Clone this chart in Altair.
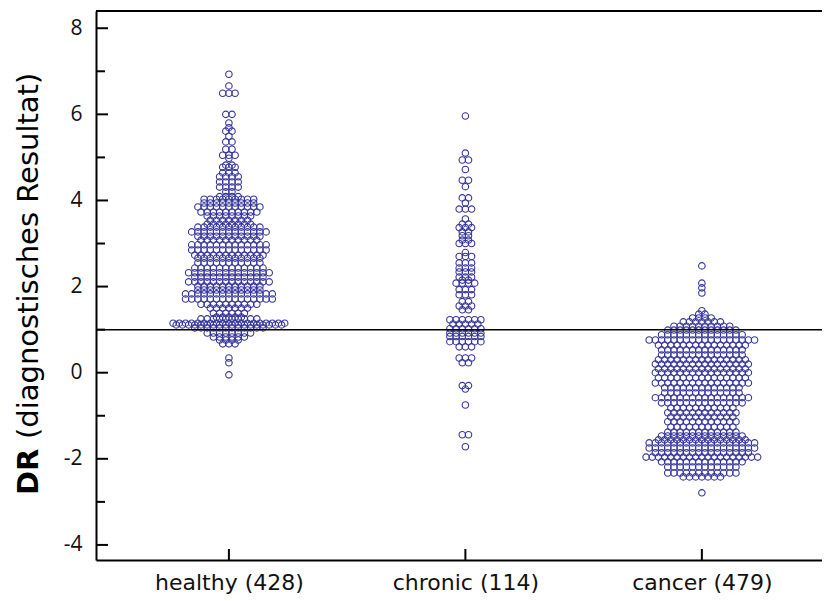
import altair as alt
import pandas as pd

# ---- data ----
groups = ["healthy (428)", "chronic (114)", "cancer (479)"]

healthy_dr = [6.93, 6.66, 6.49, 6.00, 5.80, 5.69, 5.61, 5.49, 5.36, 5.19, 5.05, 4.98, 4.82, 4.77,
              4.64, 4.55, 4.43, 4.31, 4.20, 4.09, 4.03, 3.94, 3.85, 3.73, 3.64, 3.54, 3.45, 3.38,
              3.27, 3.17, 3.08, 2.97, 2.85, 2.73, 2.66, 2.55, 2.43, 2.32, 2.22, 2.11, 2.01, 1.92,
              1.83, 1.71, 1.59, 1.50, 1.38, 1.29, 1.25, 1.15, 1.11, 1.04, 0.92, 0.83, 0.76, 0.67,
              0.34, 0.23, -0.05]
healthy_n = [1, 1, 3, 2, 1, 1, 2, 1, 2, 2, 3, 1, 2, 3,
             3, 4, 4, 4, 2, 4, 9, 9, 11, 10, 8, 7, 8, 11,
             13, 11, 10, 13, 13, 12, 11, 11, 12, 14, 12, 14, 11, 11,
             15, 15, 10, 7, 6, 5, 10, 19, 18, 12, 8, 6, 4, 3,
             1, 1, 1]

chronic_dr = [5.96, 5.10, 4.94, 4.72, 4.47, 4.32, 4.06, 3.94, 3.80, 3.57, 3.45, 3.37, 3.27, 3.18,
              3.08, 3.00, 2.79, 2.70, 2.55, 2.43, 2.34, 2.22, 2.15, 2.08, 1.93, 1.81, 1.65, 1.55,
              1.46, 1.23, 1.13, 1.02, 0.92, 0.84, 0.72, 0.60, 0.34, 0.23, -0.30, -0.38, -0.75,
              -1.44, -1.72]
chronic_n = [1, 1, 2, 1, 2, 1, 2, 1, 3, 1, 2, 3, 2, 2,
             2, 3, 1, 3, 3, 3, 3, 3, 2, 4, 3, 3, 2, 3,
             2, 6, 5, 6, 6, 6, 6, 3, 3, 2, 2, 1, 1,
             2, 1]

cancer_dr = [2.48, 2.08, 1.97, 1.85, 1.44, 1.36, 1.27, 1.18, 1.08, 0.99, 0.88, 0.76, 0.64, 0.53,
             0.41, 0.30, 0.20, 0.09, 0.00, -0.12, -0.24, -0.35, -0.47, -0.58, -0.70, -0.82, -0.93,
             -1.03, -1.14, -1.26, -1.38, -1.47, -1.56, -1.63, -1.75, -1.86, -1.96, -2.07, -2.19,
             -2.33, -2.42, -2.79]
cancer_n = [1, 1, 1, 1, 1, 2, 4, 7, 10, 12, 14, 18, 15, 14,
            14, 15, 16, 15, 16, 15, 16, 13, 13, 16, 14, 11, 12,
            11, 12, 11, 12, 14, 15, 18, 18, 16, 19, 14, 12,
            12, 7, 1]

y_major = [-4, -2, 0, 2, 4, 6, 8]
y_minor = [-3, -1, 1, 3, 5, 7]
ref_value = 1.0

# ---- dot-plot layout: points of one row side by side around the group centre ----
W, H = 726, 549
x_dom = [-0.562, 2.508]
step = 6.2 * (x_dom[1] - x_dom[0]) / W

rows = []
for gi, (vals, cnts) in enumerate([(healthy_dr, healthy_n), (chronic_dr, chronic_n), (cancer_dr, cancer_n)]):
    for v, n in zip(vals, cnts):
        for j in range(n):
            rows.append({"group": groups[gi], "gx": gi + (j - (n - 1) / 2) * step, "dr": v})
df = pd.DataFrame(rows)

xs = alt.Scale(domain=x_dom, nice=False, zero=False)
ys = alt.Scale(domain=[-4.35, 8.4], nice=False, zero=False)

label_expr = " : ".join(
    [f"datum.value == {i} ? '{g}'" for i, g in enumerate(groups[:-1])]) + f" : '{groups[-1]}'"

points = alt.Chart(df).mark_point(
    shape="circle", size=42, filled=False, stroke="#35359c", strokeWidth=1.1, opacity=1
).encode(
    x=alt.X("gx:Q", scale=xs, axis=alt.Axis(
        values=[0, 1, 2], labelExpr=label_expr, title=None, grid=False, ticks=False, tickSize=0,
        domainColor="black", domainWidth=2, labelFontSize=22, labelFont="DejaVu Sans",
        labelColor="#111", labelPadding=12)),
    y=alt.Y("dr:Q", scale=ys, axis=alt.Axis(
        values=y_major, labelExpr="datum.value + ''", title=None, grid=False, ticks=False,
        tickSize=0, domainColor="black", domainWidth=2, labelFontSize=21, labelFont="Open Sans",
        labelColor="#111", labelPadding=14)),
)

major_df = pd.DataFrame({"v": y_major})
minor_df = pd.DataFrame({"v": y_minor})
xt_df = pd.DataFrame({"i": [0, 1, 2]})

ymaj = alt.Chart(major_df).mark_rule(color="black", strokeWidth=2).encode(
    y=alt.Y("v:Q", scale=ys), x=alt.value(0), x2=alt.value(12))
ymin = alt.Chart(minor_df).mark_rule(color="black", strokeWidth=2).encode(
    y=alt.Y("v:Q", scale=ys), x=alt.value(0), x2=alt.value(9))
xtk = alt.Chart(xt_df).mark_rule(color="black", strokeWidth=2).encode(
    x=alt.X("i:Q", scale=xs), y=alt.value(H), y2=alt.value(H - 11))

ref = alt.Chart(pd.DataFrame({"r": [ref_value]})).mark_rule(color="black", strokeWidth=1.5).encode(
    y=alt.Y("r:Q", scale=ys), x=alt.value(0), x2=alt.value(W))

top = alt.Chart(pd.DataFrame({"t": [0]})).mark_rule(color="black", strokeWidth=2).encode(
    x=alt.value(0), x2=alt.value(W), y=alt.value(0))

t1 = alt.Chart(pd.DataFrame({"s": ["DR"]})).mark_text(
    angle=270, align="left", baseline="middle", fontSize=29, fontWeight="bold",
    font="DejaVu Sans", color="black"
).encode(text="s:N", x=alt.value(-67), y=alt.value(484))
t2 = alt.Chart(pd.DataFrame({"s": ["(diagnostisches Resultat)"]})).mark_text(
    angle=270, align="left", baseline="middle", fontSize=29, font="DejaVu Sans", color="black"
).encode(text="s:N", x=alt.value(-67), y=alt.value(428))

chart = alt.layer(points, ymaj, ymin, xtk, ref, top, t1, t2).properties(
    width=W, height=H,
    autosize=alt.AutoSizeParams(type="none"),
    padding={"left": 88, "top": 3, "right": 0, "bottom": 40},
).configure_view(strokeWidth=0)

chart.save("out.html", embed_options={"renderer": "svg", "actions": False})
